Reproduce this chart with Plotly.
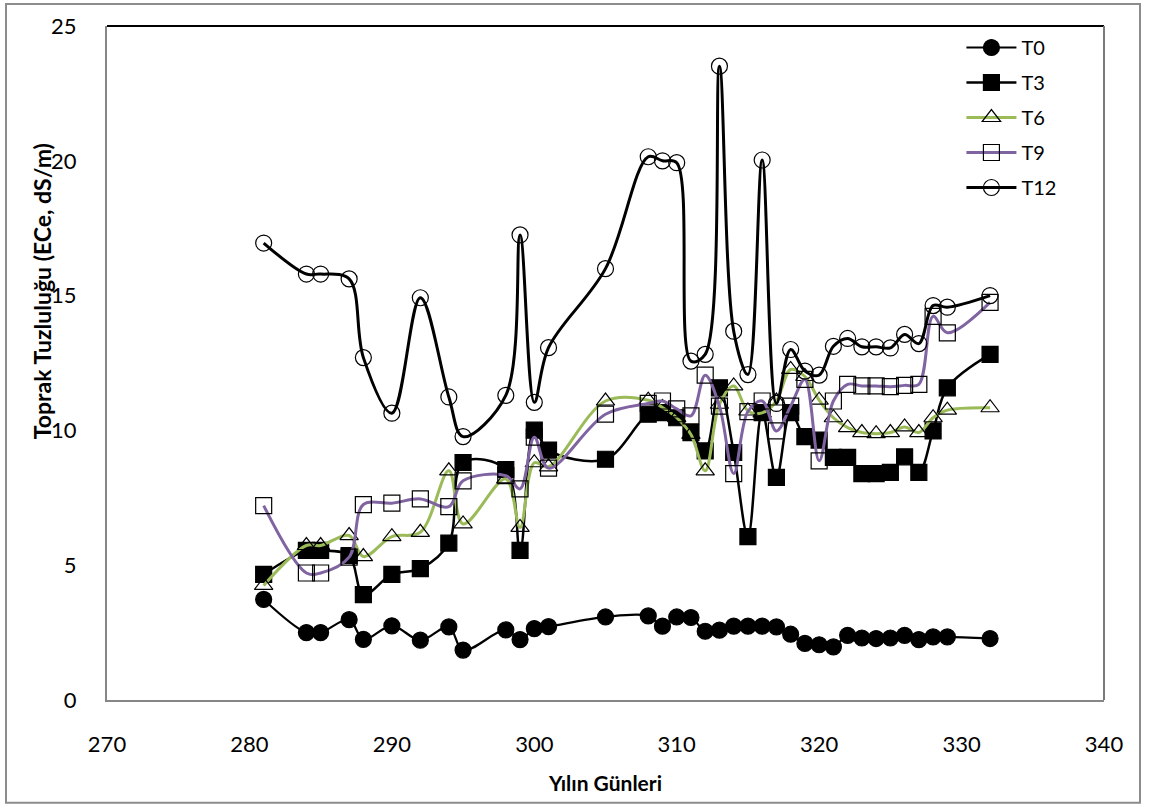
import plotly.graph_objects as go

# Day of year for each sampling date
days = [281, 284, 285, 287, 288, 290, 292, 294, 295, 298, 299, 300, 301, 305,
        308, 309, 310, 311, 312, 313, 314, 315, 316, 317, 318, 319, 320, 321,
        322, 323, 324, 325, 326, 327, 328, 329, 332]

# Soil salinity (ECe, dS/m) per treatment
t0 = [3.73, 2.50, 2.50, 2.98, 2.25, 2.75, 2.22, 2.71, 1.85, 2.60,
      2.24, 2.65, 2.72, 3.08, 3.12, 2.74, 3.08, 3.06, 2.55, 2.59,
      2.74, 2.74, 2.74, 2.71, 2.44, 2.10, 2.05, 1.97, 2.40, 2.30,
      2.28, 2.30, 2.40, 2.24, 2.34, 2.34, 2.28]
t3 = [4.66, 5.55, 5.55, 5.36, 3.91, 4.66, 4.87, 5.82, 8.81, 8.55,
      5.55, 10.01, 9.27, 8.93, 10.60, 10.66, 10.47, 9.92, 9.24, 11.58,
      9.18, 6.06, 10.66, 8.26, 10.66, 9.77, 9.64, 9.00, 9.00, 8.40,
      8.40, 8.44, 9.02, 8.44, 9.98, 11.58, 12.82]
t6 = [4.25, 5.73, 5.73, 6.10, 5.32, 6.06, 6.22, 8.50, 6.53, 8.20,
      6.40, 8.80, 8.65, 11.09, 11.12, 10.85, 10.47, 9.85, 8.50, 10.97,
      11.65, 10.72, 10.65, 11.09, 12.26, 12.00, 11.12, 10.47, 10.10, 9.92,
      9.88, 9.92, 10.13, 9.92, 10.47, 10.75, 10.84]
t9 = [7.21, 4.71, 4.71, 5.30, 7.25, 7.30, 7.46, 7.17, 8.13, 8.32,
      7.83, 9.75, 8.60, 10.60, 11.00, 11.09, 10.80, 10.54, 12.05, 10.90,
      8.40, 10.70, 11.09, 9.98, 10.90, 11.89, 8.87, 11.09, 11.71, 11.65,
      11.65, 11.62, 11.67, 11.71, 14.23, 13.62, 14.75]
t12 = [16.95, 15.80, 15.80, 15.62, 12.70, 10.64, 14.92, 11.24, 9.77, 11.30,
       17.25, 11.04, 13.07, 16.00, 20.15, 20.00, 19.93, 12.57, 12.82, 23.51,
       13.68, 12.07, 20.03, 11.00, 13.00, 12.20, 12.05, 13.12, 13.41, 13.10,
       13.10, 13.06, 13.56, 13.22, 14.63, 14.57, 15.00]

series_names = ["T0", "T3", "T6", "T9", "T12"]
series_values = [t0, t3, t6, t9, t12]
line_colors = ["#000000", "#000000", "#9BBB59", "#8064A2", "#000000"]
symbols = ["circle", "square", "triangle-up-open", "square-open", "circle-open"]
marker_sizes = [16, 16, 16, 16, 16]
line_widths = [2.2, 2.5, 3, 3, 3]

fig = go.Figure()
for name, vals, lc, sym, ms, lw in zip(series_names, series_values, line_colors,
                                        symbols, marker_sizes, line_widths):
    fig.add_trace(go.Scatter(
        x=days, y=vals, name=name, mode="lines+markers",
        legendgroup=name,
        line=dict(color=lc, width=lw, shape="spline", smoothing=1.0),
        marker=dict(symbol=sym, size=ms, color="#000000",
                    line=dict(color="#000000", width=1.2)),
    ))

W, H = 1150, 807
L, R, T, B = 107, 1104, 24, 700
pw, ph = R - L, B - T


def px(x):
    return (x - L) / pw


def py(y):
    return (B - y) / ph


fig.update_layout(
    width=W, height=H,
    margin=dict(l=L, r=W - R, t=T, b=H - B),
    paper_bgcolor="white", plot_bgcolor="white",
    font=dict(family="Lato, Open Sans, sans-serif", color="black", size=22),
    showlegend=True,
    legend=dict(x=0.857, y=0.997, xanchor="left", yanchor="top",
                bgcolor="rgba(0,0,0,0)", font=dict(size=20),
                tracegroupgap=6, itemwidth=50),
    xaxis=dict(range=[270, 340], dtick=10, tick0=270, showgrid=False,
               zeroline=False, showline=True, linecolor="#868686", linewidth=2,
               ticks="", ticklabelstandoff=24,
               title=dict(text="<b>Yılın Günleri</b>", font=dict(size=21),
                          standoff=20)),
    yaxis=dict(range=[0, 25], dtick=5, tick0=0, showgrid=False,
               zeroline=False, showline=True, linecolor="#868686", linewidth=2,
               ticks="", ticklabelstandoff=24),
    annotations=[dict(
        text="<b>Toprak Tuzluluğu (ECe, dS/m)</b>", textangle=-90,
        xref="paper", yref="paper", x=px(42), y=py(290),
        xanchor="center", yanchor="middle", showarrow=False,
        font=dict(size=23))],
    shapes=[
        # plot-area top and right edges
        dict(type="line", xref="paper", yref="paper", x0=0, x1=1, y0=1, y1=1,
             line=dict(color="black", width=2)),
        dict(type="line", xref="paper", yref="paper", x0=1, x1=1, y0=0, y1=1,
             line=dict(color="#7a7a7a", width=2)),
        # chart frame
        dict(type="rect", xref="paper", yref="paper",
             x0=px(6), x1=px(1140), y0=py(803), y1=py(2),
             line=dict(color="#8c8c8c", width=2), fillcolor="rgba(0,0,0,0)",
             layer="below"),
    ],
)

fig.write_html("out.html")
